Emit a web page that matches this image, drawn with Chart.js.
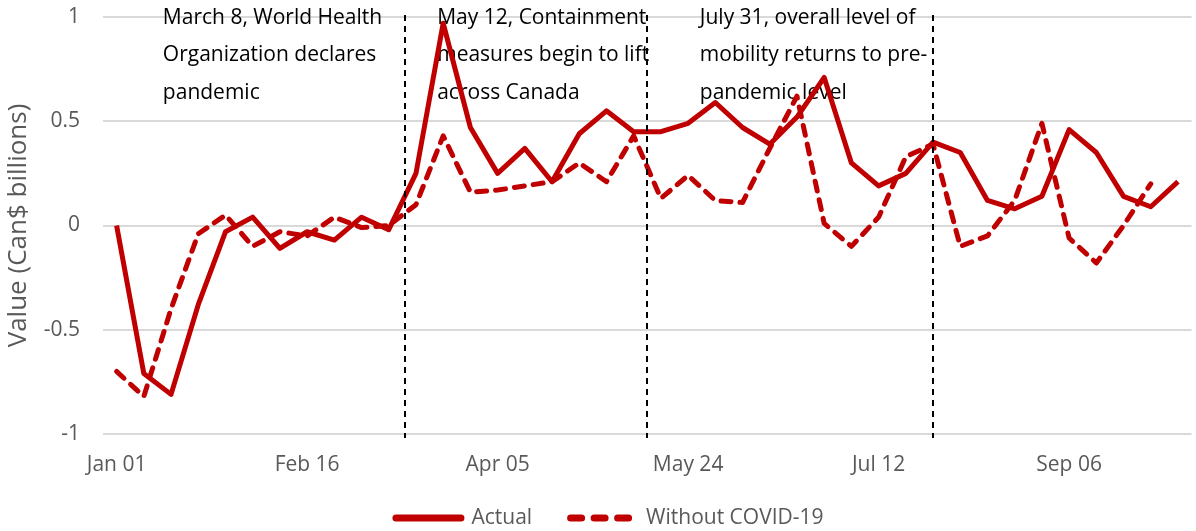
<!DOCTYPE html>
<html>
<head>
<meta charset="utf-8">
<script src="https://cdn.jsdelivr.net/npm/chart.js@4.4.0/dist/chart.umd.min.js"></script>
<style>
  html, body { margin: 0; padding: 0; background: #fff; }
  #wrap { width: 1196px; height: 531px; }
</style>
</head>
<body>
<div id="wrap"><canvas id="chart" width="1196" height="531"></canvas></div>
<script>
// ---------- data (weekly) ----------
const TICK_LABELS = ["Jan 01", "Feb 16", "Apr 05", "May 24", "Jul 12", "Sep 06"];
const TICK_EVERY = 7;

const ACTUAL = [
  0.00, -0.71, -0.81, -0.38, -0.03, 0.04, -0.11, -0.03, -0.07, 0.04,
  -0.02, 0.25, 0.97, 0.47, 0.25, 0.37, 0.21, 0.44, 0.55, 0.45,
  0.45, 0.49, 0.59, 0.47, 0.39, 0.52, 0.71, 0.30, 0.19, 0.25,
  0.40, 0.35, 0.12, 0.08, 0.14, 0.46, 0.35, 0.14, 0.09, 0.21
];

const WITHOUT_COVID = [
  -0.70, -0.82, -0.40, -0.04, 0.05, -0.10, -0.03, -0.05, 0.04, -0.01,
  0.00, 0.10, 0.43, 0.16, 0.17, 0.19, 0.21, 0.30, 0.21, 0.43,
  0.13, 0.24, 0.12, 0.11, 0.37, 0.62, 0.01, -0.10, 0.04, 0.33,
  0.39, -0.10, -0.05, 0.12, 0.49, -0.06, -0.18, 0.00, 0.20, null
];

// event dates, as positions on the weekly axis
const EVENT_AT = [10.6, 19.48, 30.0];
const NOTES = [
  ["March 8, World Health", "Organization declares", "pandemic"],
  ["May 12, Containment", "measures begin to lift", "across Canada"],
  ["July 31, overall level of", "mobility returns to pre-", "pandemic level"]
];
const NOTE_AT = [1.7, 11.78, 21.43];

// ---------- style ----------
const RED = "#C00000";
const GREY = "#595959";
const FONT = '"Open Sans", sans-serif';
Chart.defaults.font.family = FONT;

const labels = ACTUAL.map((_, i) => (i % TICK_EVERY === 0 ? TICK_LABELS[i / TICK_EVERY] : ""));

// ---------- plugins ----------
const eventMarks = {
  id: "eventMarks",
  beforeDatasetsDraw(chart) {
    const { ctx, scales: { x, y } } = chart;
    ctx.save();
    ctx.font = "21px " + FONT;
    ctx.fillStyle = "#000";
    ctx.textBaseline = "middle";
    const top = y.getPixelForValue(1);
    NOTES.forEach((lines, i) => {
      const left = x.getPixelForValue(NOTE_AT[i]);
      lines.forEach((t, j) => ctx.fillText(t, left, top + 1 + j * 37.5));
    });
    ctx.restore();
  },
  afterDatasetsDraw(chart) {
    const { ctx, scales: { x, y } } = chart;
    ctx.save();
    ctx.strokeStyle = "#000";
    ctx.lineWidth = 2;
    ctx.setLineDash([6, 5]);
    EVENT_AT.forEach(v => {
      const px = Math.round(x.getPixelForValue(v));
      ctx.beginPath();
      ctx.moveTo(px, y.getPixelForValue(1) - 2);
      ctx.lineTo(px, y.getPixelForValue(-1) + 4);
      ctx.stroke();
    });
    ctx.restore();
  }
};

const lineLegend = {
  id: "lineLegend",
  afterDraw(chart) {
    const ctx = chart.ctx;
    ctx.save();
    ctx.font = "21px " + FONT;
    const sample = 72, textGap = 7, itemGap = 35;
    const items = chart.data.datasets.map(ds => ({ ds, w: ctx.measureText(ds.label).width }));
    const total = items.reduce((s, it) => s + sample + textGap + it.w, 0) + itemGap * (items.length - 1);
    let x = chart.width / 2 + 10 - total / 2;
    const y = 518;
    items.forEach(it => {
      const dashed = it.ds.borderDash && it.ds.borderDash.length;
      ctx.strokeStyle = it.ds.borderColor;
      ctx.lineWidth = 7;
      ctx.lineCap = "round";
      ctx.setLineDash(dashed ? [11, 12.5] : []);
      ctx.beginPath();
      ctx.moveTo(x + 3.5, y);
      ctx.lineTo(x + (dashed ? 61.5 : sample - 3.5), y);
      ctx.stroke();
      ctx.setLineDash([]);
      ctx.fillStyle = GREY;
      ctx.textBaseline = "middle";
      ctx.fillText(it.ds.label, x + sample + textGap, y);
      x += sample + textGap + it.w + itemGap;
    });
    ctx.restore();
  }
};

// ---------- chart ----------
new Chart(document.getElementById("chart").getContext("2d"), {
  type: "line",
  data: {
    labels,
    datasets: [
      {
        label: "Actual",
        data: ACTUAL,
        borderColor: RED,
        borderWidth: 5,
        borderJoinStyle: "round",
        pointRadius: 0,
        tension: 0
      },
      {
        label: "Without COVID-19",
        data: WITHOUT_COVID,
        borderColor: RED,
        borderWidth: 5,
        borderDash: [10, 9],
        borderCapStyle: "round",
        borderJoinStyle: "round",
        pointRadius: 0,
        tension: 0
      }
    ]
  },
  options: {
    responsive: false,
    animation: false,
    layout: { padding: { top: 17, right: 2, left: 0, bottom: 0 } },
    plugins: { legend: { display: false }, tooltip: { enabled: false } },
    scales: {
      x: {
        offset: true,
        grid: { display: false, drawTicks: false },
        border: { display: false },
        ticks: { autoSkip: false, maxRotation: 0, padding: 18, color: GREY, font: { size: 21 } },
        afterFit(s) { s.height = 97; }
      },
      y: {
        min: -1,
        max: 1,
        grid: { color: "#d9d9d9", lineWidth: 2, drawTicks: false },
        border: { display: false },
        ticks: { stepSize: 0.5, padding: 23, color: GREY, font: { size: 21 }, callback: v => String(v) },
        title: {
          display: true,
          text: "Value (Can$ billions)",
          color: GREY,
          font: { size: 26 },
          padding: { top: 3, bottom: 0 }
        },
        afterFit(s) {
          s.width = 103;
          s.paddingTop = 0;
          s.paddingBottom = 0;
        }
      }
    }
  },
  plugins: [eventMarks, lineLegend]
});
</script>
</body>
</html>
